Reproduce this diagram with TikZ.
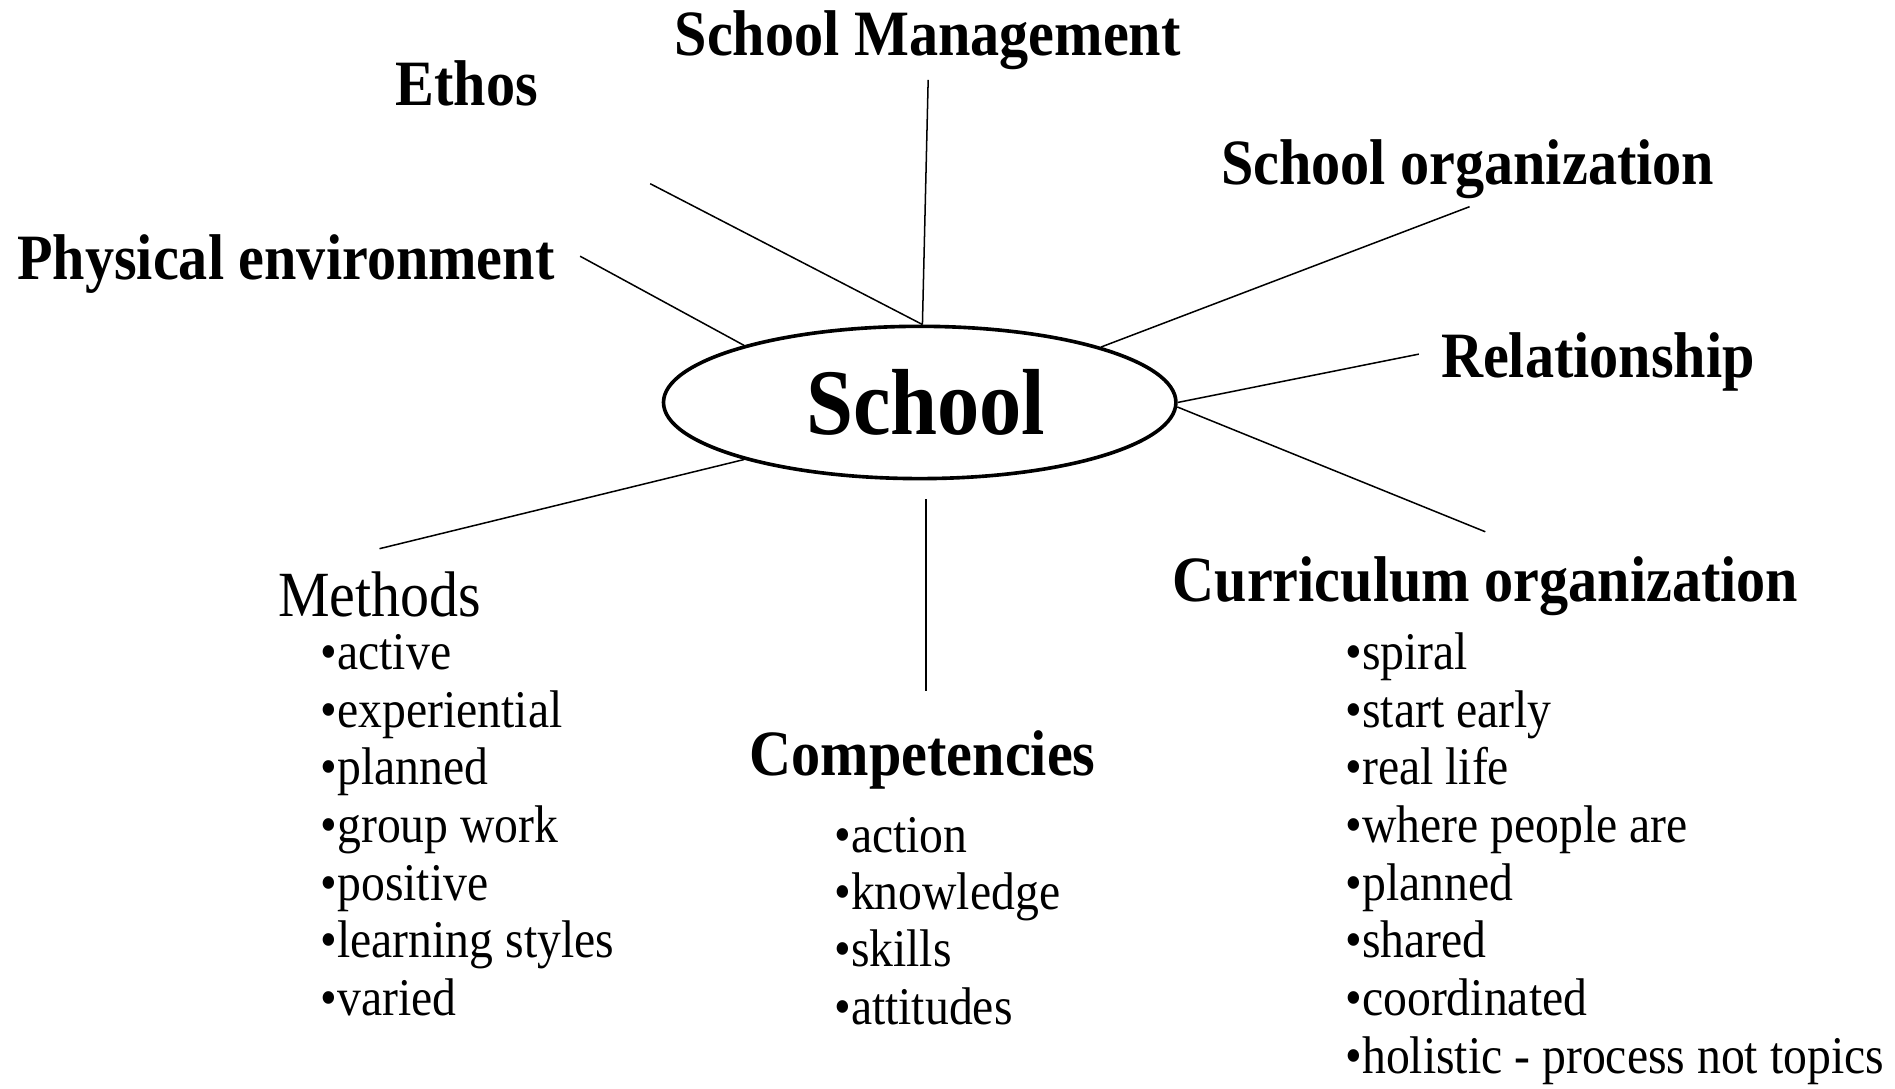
\documentclass[tikz,border=0pt]{standalone}
\usepackage{fontspec}
\setmainfont{Liberation Serif}[FakeStretch=0.9]
\usetikzlibrary{shapes.geometric}
\begin{document}
\begin{tikzpicture}[x=0.6pt,y=-0.6pt,
  head/.style={font=\fontsize{32.1}{38}\selectfont\bfseries, anchor=base west, inner sep=0pt},
  sub/.style={font=\fontsize{32}{38}\selectfont, anchor=base west, inner sep=0pt},
  item/.style={font=\fontsize{26.3}{30}\selectfont, anchor=base west, inner sep=0pt},
  spoke/.style={line width=0.75pt},
  hub/.style={ellipse, draw, line width=1.8pt, minimum width=254.4pt, minimum height=75.6pt, inner sep=0pt,
              font=\fontsize{46.6}{52}\selectfont\bfseries}]
\useasboundingbox (0,0) rectangle (1568,901);

\node[hub] (school) at (761,333) {\kern6pt School};

\node[head] (mgmt) at (558,46) {School Management};
\node[head] (ethos) at (327,87) {Ethos};
\node[head] (phys) at (14,231) {Physical environment};
\node[head] (sorg) at (1010,153) {School organization};
\node[head] (rel) at (1192,312) {Relationship};
\node[head] (curr) at (970,498) {Curriculum organization};
\node[head] (comp) at (620,642) {Competencies};
\node[sub] (meth) at (230,510) {Methods};

\foreach \t [count=\i from 0] in {active,experiential,planned,group work,positive,learning styles,varied}
  \node[item] (m\i) at (265,554+47.7*\i) {•\t};
\foreach \t [count=\i from 0] in {action,knowledge,skills,attitudes}
  \node[item] (c\i) at (690,705+47.5*\i) {•\t};
\foreach \t [count=\i from 0] in {spiral,start early,real life,where people are,planned,shared,coordinated,holistic - process not topics}
  \node[item] (k\i) at (1113,554+47.7*\i) {•\t};

\coordinate (pm) at (768,66);
\coordinate (pe) at (538,152);
\coordinate (pp) at (480,212);
\coordinate (ps) at (1216,171);
\coordinate (pr) at (1174,293);
\coordinate (pc) at (1229,440);
\coordinate (pk1) at (766,413);
\coordinate (pk2) at (766,572);
\coordinate (pme) at (314,454);

\draw[spoke] (pm) -- (school.88);
\draw[spoke] (pe) -- (school.88);
\draw[spoke] (pp) -- (school.162);
\draw[spoke] (ps) -- (school.17.6);
\draw[spoke] (pr) -- (school.0);
\draw[spoke] (pc) -- (school.-1.5);
\draw[spoke] (pk1) -- (pk2);
\draw[spoke] (pme) -- (school.198.5);
\end{tikzpicture}
\end{document}
